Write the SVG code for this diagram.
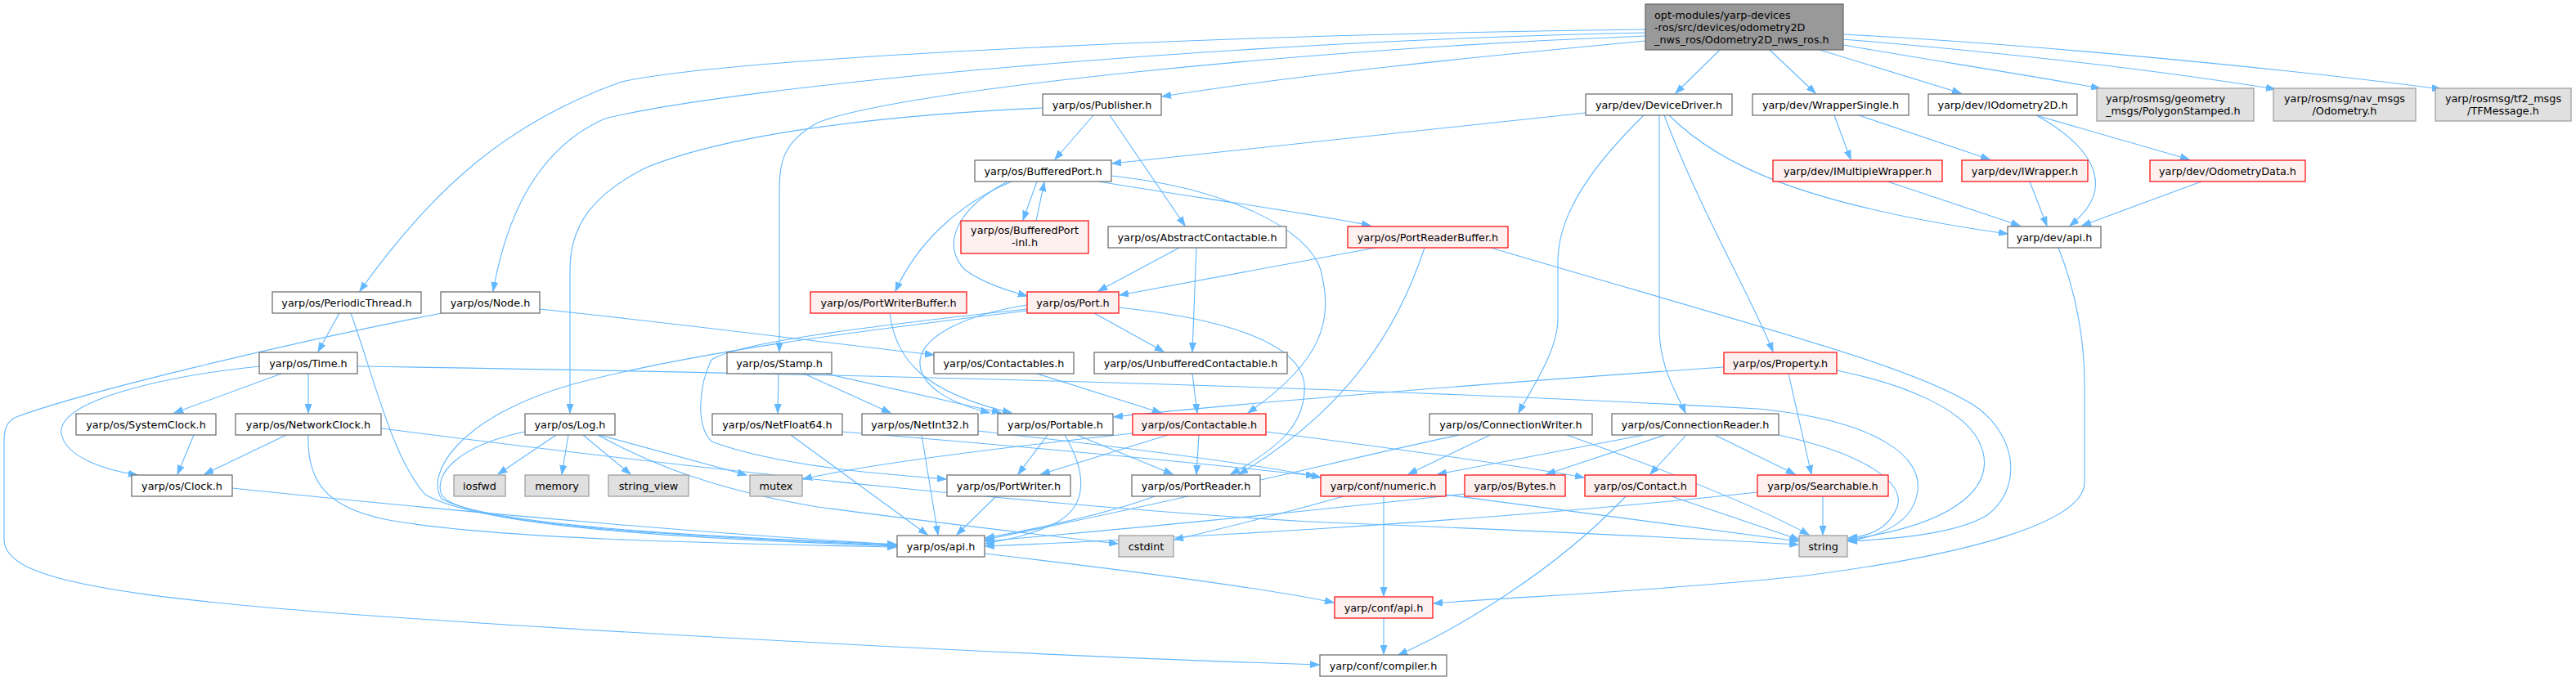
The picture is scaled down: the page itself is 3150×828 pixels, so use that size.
<svg xmlns="http://www.w3.org/2000/svg" width="3150" height="828" viewBox="0 0 3150 828">
<style>
text{font-family:"DejaVu Sans","Liberation Sans",sans-serif;font-size:12.8px;fill:#000;text-anchor:middle}
.l text{text-anchor:start}
.n rect{fill:#fff;stroke:#666;stroke-width:1.2}
.r rect{fill:#fff0f0;stroke:#f00;stroke-width:1.2}
.g rect{fill:#e0e0e0;stroke:#999;stroke-width:1.2}
.m rect{fill:#999;stroke:#666;stroke-width:1.2}
#edges path{fill:none;stroke:#63b8ff;stroke-width:1.1;marker-end:url(#a)}
</style>
<defs>
<marker id="a" markerWidth="12" markerHeight="9" refX="11" refY="4.5" orient="auto" markerUnits="userSpaceOnUse"><path d="M0,0.5 L11,4.5 L0,8.5 z" fill="#63b8ff" stroke="#63b8ff" stroke-width="1"/></marker>
</defs>
<rect width="3150" height="828" fill="#fff"/>
<g id="edges">
<path d="M2012,36 C1500,42 900,70 760,100 C620,150 530,230 440,356"/>
<path d="M2012,40 C1500,50 900,105 740,145 C660,180 620,260 603,356"/>
<path d="M2012,44 C1600,60 1100,110 1000,150 C955,175 953,200 953,240 L953,430"/>
<path d="M2012,50 C1800,70 1600,90 1421,118"/>
<path d="M2103,61 L2049,114"/>
<path d="M2164,61 L2220,114"/>
<path d="M2222,60 L2398,114"/>
<path d="M2254,55 C2350,72 2470,90 2568,108"/>
<path d="M2254,48 C2400,60 2600,80 2782,109"/>
<path d="M2254,42 C2500,55 2800,85 2985,109"/>
<path d="M1275,132 C1100,140 900,160 790,205 C720,240 697,280 697,330 L697,505"/>
<path d="M1337,141 L1290,195"/>
<path d="M1357,141 L1449,276"/>
<path d="M1939,138 C1700,165 1500,185 1360,200"/>
<path d="M2010,141 C1950,200 1905,260 1905,320 L1905,390 C1905,430 1870,480 1857,505"/>
<path d="M2029,141 L2029,400 C2029,450 2050,480 2061,505"/>
<path d="M2035,141 C2080,260 2140,360 2168,430"/>
<path d="M2041,141 C2100,200 2200,250 2455,286"/>
<path d="M2243,141 L2263,195"/>
<path d="M2273,141 L2433,195"/>
<path d="M2490,141 C2560,180 2590,230 2531,276"/>
<path d="M2493,142 L2677,195"/>
<path d="M2308,222 L2470,276"/>
<path d="M2482,222 L2503,276"/>
<path d="M2692,222 L2546,276"/>
<path d="M2517,303 C2540,360 2549,420 2549,470 L2549,590 C2549,640 2400,680 2200,705 C2000,725 1850,730 1753,738"/>
<path d="M1268,222 L1251,269"/>
<path d="M1267,270 L1277,223"/>
<path d="M1237,222 C1170,250 1120,300 1095,356"/>
<path d="M1232,222 C1170,255 1150,300 1180,330 C1200,345 1230,355 1256,362"/>
<path d="M1343,222 C1450,240 1600,260 1676,276"/>
<path d="M1359,215 C1500,230 1600,280 1615,330 C1630,390 1620,440 1526,505"/>
<path d="M415,383 L389,430"/>
<path d="M429,383 C460,470 480,560 520,605 C600,650 900,660 1096,668"/>
<path d="M540,383 C350,420 100,480 20,510 C8,515 5,525 5,540 L5,660 C5,720 200,740 800,775 C1200,798 1450,808 1613,813"/>
<path d="M660,378 C850,398 1000,418 1142,434"/>
<path d="M344,457 L213,505"/>
<path d="M377,457 L377,505"/>
<path d="M318,448 C200,460 70,490 75,530 C80,560 130,575 168,581"/>
<path d="M437,448 C900,455 1600,470 2150,500 C2300,515 2350,560 2345,600 C2340,640 2300,655 2260,662"/>
<path d="M350,532 L250,580"/>
<path d="M377,532 C375,590 400,620 470,635 C600,660 900,665 1096,669"/>
<path d="M467,524 C900,580 1300,620 1600,638 C1900,650 2100,660 2199,666"/>
<path d="M237,532 L217,580"/>
<path d="M284,597 C600,630 900,655 1096,666"/>
<path d="M680,532 L609,580"/>
<path d="M695,532 L687,580"/>
<path d="M713,532 L771,580"/>
<path d="M733,532 L913,581"/>
<path d="M642,528 C560,545 530,580 540,605 C560,640 800,655 1096,667"/>
<path d="M731,532 C800,570 880,600 1000,620 C1150,640 1280,655 1367,665"/>
<path d="M952,457 L951,505"/>
<path d="M983,457 L1089,505"/>
<path d="M1010,457 L1224,505"/>
<path d="M1256,378 C1050,400 900,420 870,440 C855,470 850,520 870,540 C950,570 1080,580 1157,586"/>
<path d="M1256,380 C1050,405 850,430 700,470 C560,510 520,580 540,610 C600,645 900,658 1096,666"/>
<path d="M1256,373 C1180,385 1130,410 1125,440 C1122,475 1170,495 1210,505"/>
<path d="M1338,383 L1423,430"/>
<path d="M1368,376 C1500,390 1590,420 1595,470 C1598,520 1560,550 1505,580"/>
<path d="M1088,383 C1095,440 1130,480 1237,505"/>
<path d="M1442,303 L1343,356"/>
<path d="M1463,303 L1458,430"/>
<path d="M1682,303 L1369,361"/>
<path d="M1742,303 C1710,400 1650,500 1515,580"/>
<path d="M1823,303 C2150,400 2350,450 2420,500 C2470,540 2470,600 2430,630 C2390,655 2300,660 2260,662"/>
<path d="M1458,457 L1464,505"/>
<path d="M1268,457 L1420,505"/>
<path d="M1281,532 L1245,580"/>
<path d="M1317,532 L1434,580"/>
<path d="M1302,532 C1330,580 1330,620 1290,640 C1260,655 1230,660 1205,665"/>
<path d="M1385,530 C1200,550 1050,570 982,586"/>
<path d="M1428,532 L1273,580"/>
<path d="M1466,532 L1463,580"/>
<path d="M1548,528 C1700,548 1850,568 1937,584"/>
<path d="M2108,449 C1800,470 1500,495 1362,510"/>
<path d="M2187,457 L2215,580"/>
<path d="M2246,453 C2330,470 2400,500 2420,540 C2445,590 2400,640 2260,660"/>
<path d="M2175,532 C2280,555 2330,590 2320,620 C2310,645 2290,655 2260,658"/>
<path d="M1822,532 L1722,580"/>
<path d="M1916,532 C2050,580 2150,620 2212,654"/>
<path d="M1784,532 C1650,560 1500,600 1205,660"/>
<path d="M2010,532 L1758,580"/>
<path d="M2036,532 L1891,580"/>
<path d="M2062,532 L2018,580"/>
<path d="M2097,532 L2195,580"/>
<path d="M1692,607 L1692,729"/>
<path d="M1768,605 C1950,630 2100,650 2199,662"/>
<path d="M1643,607 C1580,625 1500,645 1436,660"/>
<path d="M1791,604 C1600,625 1400,645 1205,662"/>
<path d="M2044,607 L2200,660"/>
<path d="M1988,607 C1900,700 1780,770 1710,801"/>
<path d="M2229,607 L2229,654"/>
<path d="M2149,602 C1800,640 1400,660 1205,668"/>
<path d="M1204,677 C1400,700 1550,720 1631,737"/>
<path d="M1692,756 L1692,800"/>
<path d="M967,532 L1134,654"/>
<path d="M1127,532 L1147,654"/>
<path d="M1030,528 C1300,550 1500,570 1608,582"/>
<path d="M1196,527 C1400,550 1550,570 1615,584"/>
<path d="M1218,607 L1170,654"/>
<path d="M1412,607 C1350,630 1250,650 1205,658"/>
</g>
<g id="main" class="m l"><rect x="2012" y="5" width="242" height="56"/><text x="2023" y="22.5">opt-modules/yarp-devices</text><text x="2023" y="37.5">-ros/src/devices/odometry2D</text><text x="2023" y="52.5">_nws_ros/Odometry2D_nws_ros.h</text></g>
<g id="publisher" class="n"><rect x="1275" y="115" width="145" height="26"/><text x="1347.5" y="132.5">yarp/os/Publisher.h</text></g>
<g id="devicedriver" class="n"><rect x="1939" y="115" width="179" height="26"/><text x="2028.5" y="132.5">yarp/dev/DeviceDriver.h</text></g>
<g id="wrappersingle" class="n"><rect x="2143" y="115" width="191" height="26"/><text x="2238.5" y="132.5">yarp/dev/WrapperSingle.h</text></g>
<g id="iodometry2d" class="n"><rect x="2358" y="115" width="182" height="26"/><text x="2449" y="132.5">yarp/dev/IOdometry2D.h</text></g>
<g id="polygonstamped" class="g l"><rect x="2564" y="108" width="192" height="40"/><text x="2575" y="124.5">yarp/rosmsg/geometry</text><text x="2575" y="139.5">_msgs/PolygonStamped.h</text></g>
<g id="navodometry" class="g"><rect x="2780" y="108" width="174" height="40"/><text x="2867" y="124.5">yarp/rosmsg/nav_msgs</text><text x="2867" y="139.5">/Odometry.h</text></g>
<g id="tfmessage" class="g"><rect x="2978" y="108" width="166" height="40"/><text x="3061" y="124.5">yarp/rosmsg/tf2_msgs</text><text x="3061" y="139.5">/TFMessage.h</text></g>
<g id="bufferedport" class="n"><rect x="1192" y="196" width="167" height="26"/><text x="1275.5" y="213.5">yarp/os/BufferedPort.h</text></g>
<g id="imultiplewrapper" class="r"><rect x="2168" y="196" width="207" height="26"/><text x="2271.5" y="213.5">yarp/dev/IMultipleWrapper.h</text></g>
<g id="iwrapper" class="r"><rect x="2399" y="196" width="154" height="26"/><text x="2476" y="213.5">yarp/dev/IWrapper.h</text></g>
<g id="odometrydata" class="r"><rect x="2629" y="196" width="190" height="26"/><text x="2724" y="213.5">yarp/dev/OdometryData.h</text></g>
<g id="bufferedportinl" class="r"><rect x="1175" y="270" width="156" height="40"/><text x="1253" y="285.5">yarp/os/BufferedPort</text><text x="1253" y="300.5">-inl.h</text></g>
<g id="abstractcontactable" class="n"><rect x="1355" y="277" width="218" height="26"/><text x="1464" y="294.5">yarp/os/AbstractContactable.h</text></g>
<g id="portreaderbuffer" class="r"><rect x="1648" y="277" width="196" height="26"/><text x="1746" y="294.5">yarp/os/PortReaderBuffer.h</text></g>
<g id="devapi" class="n"><rect x="2455" y="277" width="114" height="26"/><text x="2512" y="294.5">yarp/dev/api.h</text></g>
<g id="periodicthread" class="n"><rect x="333" y="357" width="182" height="26"/><text x="424" y="374.5">yarp/os/PeriodicThread.h</text></g>
<g id="node" class="n"><rect x="539" y="357" width="121" height="26"/><text x="599.5" y="374.5">yarp/os/Node.h</text></g>
<g id="portwriterbuffer" class="r"><rect x="991" y="357" width="191" height="26"/><text x="1086.5" y="374.5">yarp/os/PortWriterBuffer.h</text></g>
<g id="port" class="r"><rect x="1256" y="357" width="112" height="26"/><text x="1312" y="374.5">yarp/os/Port.h</text></g>
<g id="time" class="n"><rect x="317" y="431" width="120" height="26"/><text x="377" y="448.5">yarp/os/Time.h</text></g>
<g id="stamp" class="n"><rect x="889" y="431" width="128" height="26"/><text x="953" y="448.5">yarp/os/Stamp.h</text></g>
<g id="contactables" class="n"><rect x="1142" y="431" width="171" height="26"/><text x="1227.5" y="448.5">yarp/os/Contactables.h</text></g>
<g id="unbufferedcontactable" class="n"><rect x="1338" y="431" width="236" height="26"/><text x="1456" y="448.5">yarp/os/UnbufferedContactable.h</text></g>
<g id="property" class="r"><rect x="2108" y="431" width="138" height="26"/><text x="2177" y="448.5">yarp/os/Property.h</text></g>
<g id="systemclock" class="n"><rect x="93" y="506" width="171" height="26"/><text x="178.5" y="523.5">yarp/os/SystemClock.h</text></g>
<g id="networkclock" class="n"><rect x="288" y="506" width="178" height="26"/><text x="377" y="523.5">yarp/os/NetworkClock.h</text></g>
<g id="log" class="n"><rect x="642" y="506" width="110" height="26"/><text x="697" y="523.5">yarp/os/Log.h</text></g>
<g id="netfloat64" class="n"><rect x="871" y="506" width="159" height="26"/><text x="950.5" y="523.5">yarp/os/NetFloat64.h</text></g>
<g id="netint32" class="n"><rect x="1054" y="506" width="142" height="26"/><text x="1125" y="523.5">yarp/os/NetInt32.h</text></g>
<g id="portable" class="n"><rect x="1220" y="506" width="141" height="26"/><text x="1290.5" y="523.5">yarp/os/Portable.h</text></g>
<g id="contactable" class="r"><rect x="1385" y="506" width="163" height="26"/><text x="1466.5" y="523.5">yarp/os/Contactable.h</text></g>
<g id="connectionwriter" class="n"><rect x="1748" y="506" width="199" height="26"/><text x="1847.5" y="523.5">yarp/os/ConnectionWriter.h</text></g>
<g id="connectionreader" class="n"><rect x="1971" y="506" width="204" height="26"/><text x="2073" y="523.5">yarp/os/ConnectionReader.h</text></g>
<g id="clock" class="n"><rect x="161" y="581" width="123" height="26"/><text x="222.5" y="598.5">yarp/os/Clock.h</text></g>
<g id="iosfwd" class="g"><rect x="555" y="581" width="63" height="26"/><text x="586.5" y="598.5">iosfwd</text></g>
<g id="memory" class="g"><rect x="642" y="581" width="78" height="26"/><text x="681" y="598.5">memory</text></g>
<g id="string_view" class="g"><rect x="744" y="581" width="98" height="26"/><text x="793" y="598.5">string_view</text></g>
<g id="mutex" class="g"><rect x="917" y="581" width="64" height="26"/><text x="949" y="598.5">mutex</text></g>
<g id="portwriter" class="n"><rect x="1158" y="581" width="151" height="26"/><text x="1233.5" y="598.5">yarp/os/PortWriter.h</text></g>
<g id="portreader" class="n"><rect x="1384" y="581" width="157" height="26"/><text x="1462.5" y="598.5">yarp/os/PortReader.h</text></g>
<g id="numeric" class="r"><rect x="1615" y="581" width="153" height="26"/><text x="1691.5" y="598.5">yarp/conf/numeric.h</text></g>
<g id="bytes" class="r"><rect x="1791" y="581" width="123" height="26"/><text x="1852.5" y="598.5">yarp/os/Bytes.h</text></g>
<g id="contact" class="r"><rect x="1938" y="581" width="136" height="26"/><text x="2006" y="598.5">yarp/os/Contact.h</text></g>
<g id="searchable" class="r"><rect x="2149" y="581" width="160" height="26"/><text x="2229" y="598.5">yarp/os/Searchable.h</text></g>
<g id="osapi" class="n"><rect x="1097" y="655" width="107" height="26"/><text x="1150.5" y="672.5">yarp/os/api.h</text></g>
<g id="cstdint" class="g"><rect x="1368" y="655" width="67" height="26"/><text x="1401.5" y="672.5">cstdint</text></g>
<g id="string" class="g"><rect x="2200" y="655" width="59" height="26"/><text x="2229.5" y="672.5">string</text></g>
<g id="confapi" class="r"><rect x="1632" y="730" width="120" height="26"/><text x="1692" y="747.5">yarp/conf/api.h</text></g>
<g id="compiler" class="n"><rect x="1614" y="801" width="155" height="26"/><text x="1691.5" y="818.5">yarp/conf/compiler.h</text></g>
</svg>
